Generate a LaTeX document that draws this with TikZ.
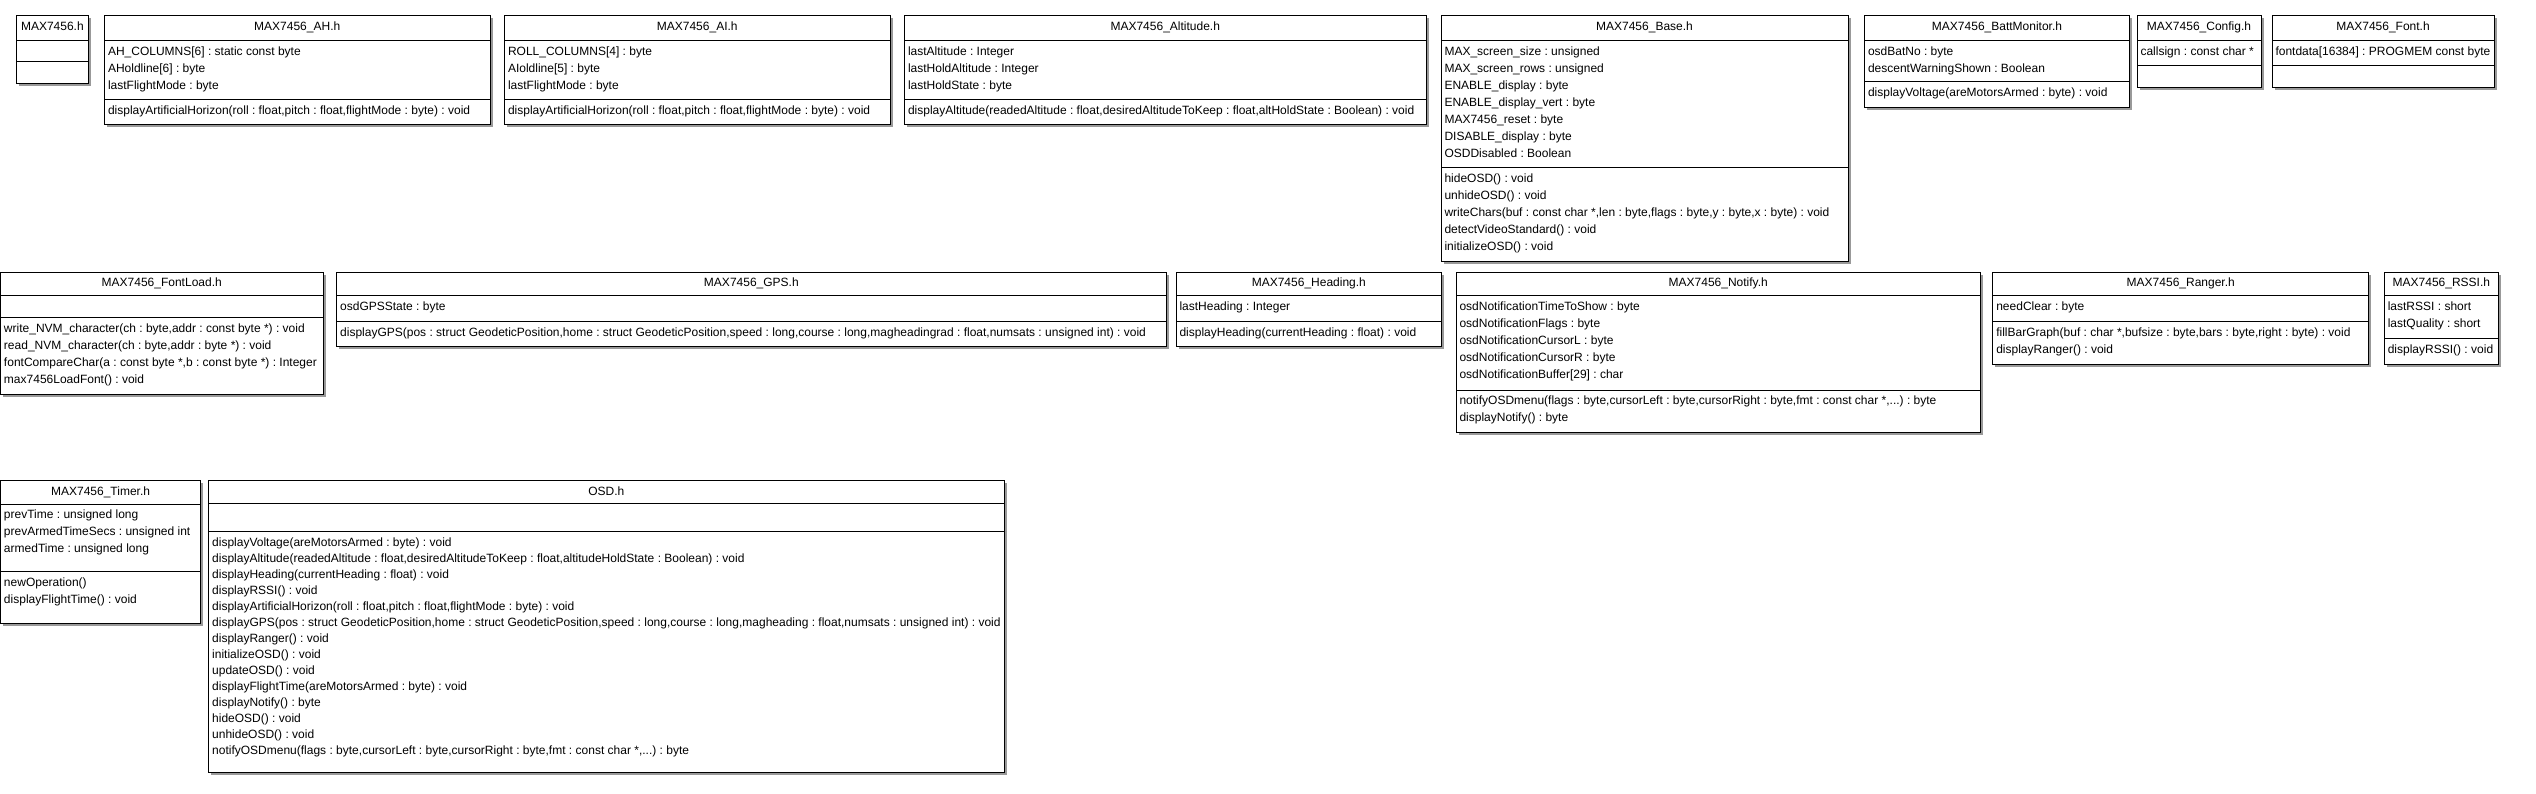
\documentclass[tikz,border=0pt]{standalone}
\usepackage{fontspec}
\setmainfont{Liberation Sans}
\usepackage{tikz}

\begin{document}
\begin{tikzpicture}[x = 1pt, y = -1pt,
    box/.style = { draw, fill = white, line width = 1pt,
                   preaction = { fill = black!40, transform canvas = { shift = {(2.5pt,-2.5pt)} } } },
    bar/.style = { line width = 1pt },
    title/.style = { anchor = base, inner sep = 0pt, font = \fontsize{12}{17}\selectfont\frenchspacing },
    items/.style = { anchor = north west, align = left, inner xsep = 3.3pt, inner ysep = 6pt,
                     font = \fontsize{12}{17}\selectfont\frenchspacing },
    items16/.style = { items, font = \fontsize{12}{16}\selectfont\frenchspacing }]

    \fill[white] (0,0) rectangle (2536,794);
    \useasboundingbox (0,0) rectangle (2536,794);

    \draw[box] (16.5,16) rectangle (88.3,84);
    \draw[bar] (16.5,40.7) -- (88.3,40.7) (16.5,61.3) -- (88.3,61.3);
    \node[title] (max) at (52.4,30.3) {MAX7456.h};

    \draw[box] (104.5,16) rectangle (490,125);
    \draw[bar] (104.5,40.7) -- (490,40.7) (104.5,99.3) -- (490,99.3);
    \node[title] (ah) at (297.25,30.3) {MAX7456\_AH.h};
    \node[items] (ah-attr) at (104.5,40.7) {AH\_COLUMNS[6] : static const byte \\ AHoldline[6] : byte \\ lastFlightMode : byte};
    \node[items] (ah-ops) at (104.5,99.3) {displayArtificialHorizon(roll : float,pitch : float,flightMode : byte) : void};

    \draw[box] (504.5,16) rectangle (890,125);
    \draw[bar] (504.5,40.7) -- (890,40.7) (504.5,99.3) -- (890,99.3);
    \node[title] (ai) at (697.25,30.3) {MAX7456\_AI.h};
    \node[items] (ai-attr) at (504.5,40.7) {ROLL\_COLUMNS[4] : byte \\ AIoldline[5] : byte \\ lastFlightMode : byte};
    \node[items] (ai-ops) at (504.5,99.3) {displayArtificialHorizon(roll : float,pitch : float,flightMode : byte) : void};

    \draw[box] (904.5,16) rectangle (1426,125);
    \draw[bar] (904.5,40.7) -- (1426,40.7) (904.5,99.3) -- (1426,99.3);
    \node[title] (alt) at (1165.25,30.3) {MAX7456\_Altitude.h};
    \node[items] (alt-attr) at (904.5,40.7) {lastAltitude : Integer \\ lastHoldAltitude : Integer \\ lastHoldState : byte};
    \node[items] (alt-ops) at (904.5,99.3) {displayAltitude(readedAltitude : float,desiredAltitudeToKeep : float,altHoldState : Boolean) : void};

    \draw[box] (1441,16) rectangle (1848,262);
    \draw[bar] (1441,40.7) -- (1848,40.7) (1441,167.3) -- (1848,167.3);
    \node[title] (base) at (1644.5,30.3) {MAX7456\_Base.h};
    \node[items] (base-attr) at (1441,40.7) {MAX\_screen\_size : unsigned \\ MAX\_screen\_rows : unsigned \\ ENABLE\_display : byte \\ ENABLE\_display\_vert : byte \\ MAX7456\_reset : byte \\ DISABLE\_display : byte \\ OSDDisabled : Boolean};
    \node[items] (base-ops) at (1441,167.3) {hideOSD() : void \\ unhideOSD() : void \\ writeChars(buf : const char *,len : byte,flags : byte,y : byte,x : byte) : void \\ detectVideoStandard() : void \\ initializeOSD() : void};

    \draw[box] (1864.5,16) rectangle (2129.5,107.5);
    \draw[bar] (1864.5,40.7) -- (2129.5,40.7) (1864.5,82) -- (2129.5,82);
    \node[title] (batt) at (1997,30.3) {MAX7456\_BattMonitor.h};
    \node[items] (batt-attr) at (1864.5,40.7) {osdBatNo : byte \\ descentWarningShown : Boolean};
    \node[items] (batt-ops) at (1864.5,82) {displayVoltage(areMotorsArmed : byte) : void};

    \draw[box] (2137,16) rectangle (2261,87.3);
    \draw[bar] (2137,40.7) -- (2261,40.7) (2137,65.3) -- (2261,65.3);
    \node[title] (cfg) at (2199,30.3) {MAX7456\_Config.h};
    \node[items] (cfg-attr) at (2137,40.7) {callsign : const char *};

    \draw[box] (2272,16) rectangle (2494,87.3);
    \draw[bar] (2272,40.7) -- (2494,40.7) (2272,65.3) -- (2494,65.3);
    \node[title] (font) at (2383,30.3) {MAX7456\_Font.h};
    \node[items] (font-attr) at (2272,40.7) {fontdata[16384] : PROGMEM const byte};

    \draw[box] (0.5,272.7) rectangle (323,394);
    \draw[bar] (0.5,296) -- (323,296) (0.5,317.3) -- (323,317.3);
    \node[title] (fload) at (161.75,287) {MAX7456\_FontLoad.h};
    \node[items] (fload-ops) at (0.5,317.3) {write\_NVM\_character(ch : byte,addr : const byte *) : void \\ read\_NVM\_character(ch : byte,addr : byte *) : void \\ fontCompareChar(a : const byte *,b : const byte *) : Integer \\ max7456LoadFont() : void};

    \draw[box] (336.7,272.7) rectangle (1166,347);
    \draw[bar] (336.7,296) -- (1166,296) (336.7,321.3) -- (1166,321.3);
    \node[title] (gps) at (751.35,287) {MAX7456\_GPS.h};
    \node[items] (gps-attr) at (336.7,296) {osdGPSState : byte};
    \node[items] (gps-ops) at (336.7,321.3) {displayGPS(pos : struct GeodeticPosition,home : struct GeodeticPosition,speed : long,course : long,magheadingrad : float,numsats : unsigned int) : void};

    \draw[box] (1176,272.7) rectangle (1441.7,347);
    \draw[bar] (1176,296) -- (1441.7,296) (1176,321.3) -- (1441.7,321.3);
    \node[title] (head) at (1308.85,287) {MAX7456\_Heading.h};
    \node[items] (head-attr) at (1176,296) {lastHeading : Integer};
    \node[items] (head-ops) at (1176,321.3) {displayHeading(currentHeading : float) : void};

    \draw[box] (1456,272.7) rectangle (1980.5,432.5);
    \draw[bar] (1456,296) -- (1980.5,296) (1456,390) -- (1980.5,390);
    \node[title] (notify) at (1718.25,287) {MAX7456\_Notify.h};
    \node[items] (notify-attr) at (1456,296) {osdNotificationTimeToShow : byte \\ osdNotificationFlags : byte \\ osdNotificationCursorL : byte \\ osdNotificationCursorR : byte \\ osdNotificationBuffer[29] : char};
    \node[items] (notify-ops) at (1456,390) {notifyOSDmenu(flags : byte,cursorLeft : byte,cursorRight : byte,fmt : const char *,...) : byte \\ displayNotify() : byte};

    \draw[box] (1992.8,272.7) rectangle (2368.7,364);
    \draw[bar] (1992.8,296) -- (2368.7,296) (1992.8,321.3) -- (2368.7,321.3);
    \node[title] (ranger) at (2180.75,287) {MAX7456\_Ranger.h};
    \node[items] (ranger-attr) at (1992.8,296) {needClear : byte};
    \node[items] (ranger-ops) at (1992.8,321.3) {fillBarGraph(buf : char *,bufsize : byte,bars : byte,right : byte) : void \\ displayRanger() : void};

    \draw[box] (2384.3,272.7) rectangle (2498.4,364);
    \draw[bar] (2384.3,296) -- (2498.4,296) (2384.3,338.7) -- (2498.4,338.7);
    \node[title] (rssi) at (2441.35,287) {MAX7456\_RSSI.h};
    \node[items] (rssi-attr) at (2384.3,296) {lastRSSI : short \\ lastQuality : short};
    \node[items] (rssi-ops) at (2384.3,338.7) {displayRSSI() : void};

    \draw[box] (0.5,480.7) rectangle (200.7,623.3);
    \draw[bar] (0.5,504) -- (200.7,504) (0.5,571.3) -- (200.7,571.3);
    \node[title] (timer) at (100.6,495) {MAX7456\_Timer.h};
    \node[items] (timer-attr) at (0.5,504) {prevTime : unsigned long \\ prevArmedTimeSecs : unsigned int \\ armedTime : unsigned long};
    \node[items] (timer-ops) at (0.5,571.3) {newOperation() \\ displayFlightTime() : void};

    \draw[box] (208.7,480.7) rectangle (1004,772.5);
    \draw[bar] (208.7,503.3) -- (1004,503.3) (208.7,531.3) -- (1004,531.3);
    \node[title] (osd) at (606.35,495) {OSD.h};
    \node[items16] (osd-ops) at (208.7,531.3) {displayVoltage(areMotorsArmed : byte) : void \\ displayAltitude(readedAltitude : float,desiredAltitudeToKeep : float,altitudeHoldState : Boolean) : void \\ displayHeading(currentHeading : float) : void \\ displayRSSI() : void \\ displayArtificialHorizon(roll : float,pitch : float,flightMode : byte) : void \\ displayGPS(pos : struct GeodeticPosition,home : struct GeodeticPosition,speed : long,course : long,magheading : float,numsats : unsigned int) : void \\ displayRanger() : void \\ initializeOSD() : void \\ updateOSD() : void \\ displayFlightTime(areMotorsArmed : byte) : void \\ displayNotify() : byte \\ hideOSD() : void \\ unhideOSD() : void \\ notifyOSDmenu(flags : byte,cursorLeft : byte,cursorRight : byte,fmt : const char *,...) : byte};

\end{tikzpicture}
\end{document}
